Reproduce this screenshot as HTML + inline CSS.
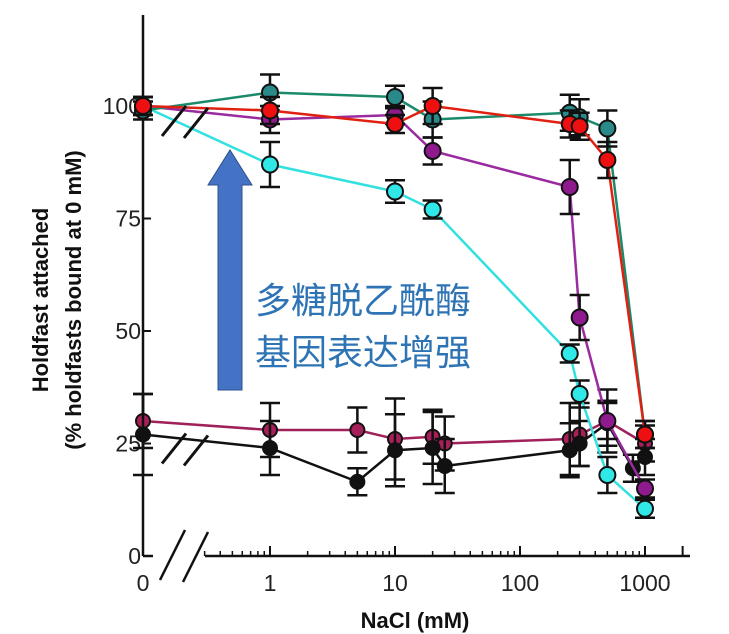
<!DOCTYPE html>
<html><head><meta charset="utf-8"><style>
html,body{margin:0;padding:0;background:#fff;}
svg{display:block;font-family:"Liberation Sans",sans-serif;}
</style></head><body>
<svg id="chart" width="729" height="634" viewBox="0 0 729 634" xmlns="http://www.w3.org/2000/svg">
<g id="axes"></g>
<g id="series"></g>
<g font-weight="bold" font-size="22" fill="#111">
<text transform="translate(48,300) rotate(-90)" text-anchor="middle">Holdfast attached</text>
<text transform="translate(81,300) rotate(-90)" text-anchor="middle">(% holdfasts bound at 0 mM)</text>
</g>
<text x="415" y="628" text-anchor="middle" font-weight="bold" font-size="22" fill="#111">NaCl (mM)</text>
<polygon points="218,390 242,390 242,185 252,185 230,150 208,185 218,185" fill="#4472c4" stroke="#2f528f" stroke-width="1"/>
<g font-family="'Liberation Sans','Noto Sans CJK SC',sans-serif" font-size="36" fill="#2e74b5">
<text x="255" y="313">多糖脱乙酰酶</text>
<text x="255" y="365">基因表达增强</text>
</g>
</svg>
<script>
const xValsTeal=[0,1,10,20,250,300,500,1000];
const tealVals=[99,103,102,97,98.5,97.5,95,27];
const tealErr=[2,4,2.5,4,4,4,4,3];
const xValsRed=[0,1,10,20,250,300,500,1000];
const redVals=[100,99,96,100,96,95.5,88,27];
const redErr=[2,3,2,4,3,3,4,3];
const xValsPurple=[0,1,10,20,250,300,500,1000];
const purpleVals=[100,97,98,90,82,53,30,15];
const purpleErr=[2,3,2,3,6,5,4,2];
const xValsCyan=[0,1,10,20,250,300,500,1000];
const cyanVals=[100,87,81,77,45,36,18,10.5];
const cyanErr=[2,5,2.5,2,2,3,4,2];
const xValsCrimson=[0,1,5,10,20,25,250,300,500,1000];
const crimsonVals=[30,28,28,26,26.5,25,26,27,30,25];
const crimsonErr=[6,6,5,9,6,6,8,7,7,4];
const xValsBlack=[0,1,5,10,20,25,250,300,500,800,1000];
const blackVals=[27,24,16.5,23.5,24,20,23.5,25,29.5,19.5,22];
const blackErr=[9,6,3,8,8,6,6,5,5,3,4];
const yTicks=[0,25,50,75,100];
const xTickVals=[0,1,10,100,1000];
const xTickLabels=["0","1","10","100","1000"];

const NS="http://www.w3.org/2000/svg";
function X(v){return v===0?143:270+125*Math.log10(v);}
function Y(v){return 556-v*4.5;}
function mk(tag,attrs,parent){const e=document.createElementNS(NS,tag);for(const k in attrs)e.setAttribute(k,attrs[k]);parent.appendChild(e);return e;}
const axes=document.getElementById('axes');
let e;
e=mk('line',{x1:143,y1:15,x2:143,y2:556,stroke:'#111','stroke-width':2.5},axes);


e=mk('line',{x1:143,y1:556,x2:690,y2:556,stroke:'#111','stroke-width':2.5},axes);


e=mk('rect',{x:153,y:530,width:52,height:40,fill:'#fff'},axes);


yTicks.forEach(t=>{
  const l=mk('line',{x1:143,y1:Y(t),x2:151,y2:Y(t),stroke:'#111','stroke-width':2},axes);
  
  
  const tx=mk('text',{x:141,y:Y(t)+8,'text-anchor':'end','font-size':23,fill:'#222'},axes);
  tx.textContent=t;
  
  
});
xTickVals.forEach((t,i)=>{
  if(t>0){const l=mk('line',{x1:X(t),y1:556,x2:X(t),y2:546,stroke:'#111','stroke-width':2},axes);
  
  }
  const tx=mk('text',{x:X(t),y:591,'text-anchor':'middle','font-size':23,fill:'#222'},axes);
  tx.textContent=xTickLabels[i];
  
  
});
for(let d=0.1;d<=1000;d*=10){for(let m=2;m<=9;m++){const v=d*m;if(v<0.25||v>1900)continue;
  const l=mk('line',{x1:X(v),y1:556,x2:X(v),y2:551,stroke:'#111','stroke-width':1.5},axes);
  
  }}
e=mk('line',{x1:X(2000),y1:556,x2:X(2000),y2:546,stroke:'#111','stroke-width':2},axes);


[[160,580,185,530],[183,582,208,532]].forEach(p=>{const l=mk('line',{x1:p[0],y1:p[1],x2:p[2],y2:p[3],stroke:'#111','stroke-width':2.5},axes);
  
  });
const S=document.getElementById('series');
function brk(y0){[[162,y0+25,186,y0-5],[184,y0+27,208,y0-3]].forEach(p=>{
  const l=mk('line',{x1:p[0],y1:p[1],x2:p[2],y2:p[3],stroke:'#111','stroke-width':3},S);
  
  });}
function draw(name,xs,vs,es,line,fill,r){
  const g=mk('g',{},S);
  
  
  const pts=xs.map((x,i)=>X(x)+','+Y(vs[i])).join(' ');
  const pl=mk('polyline',{points:pts,fill:'none',stroke:line,'stroke-width':2.5},g);
  
  
  xs.forEach((x,i)=>{const cx=X(x),y1=Y(vs[i]+es[i]),y2=Y(vs[i]-es[i]);
    const eb=mk('path',{d:`M${cx},${y1}V${y2}M${cx-10},${y1}H${cx+10}M${cx-10},${y2}H${cx+10}`,stroke:'#111','stroke-width':2.5,fill:'none'},g);
    
    });
  xs.forEach((x,i)=>{const c=mk('circle',{cx:X(x),cy:Y(vs[i]),r:r,fill:fill,stroke:'#111','stroke-width':2},g);
    
    });
}
draw('crimson',xValsCrimson,crimsonVals,crimsonErr,'#a0205a','#a8205a',7);
draw('black',xValsBlack,blackVals,blackErr,'#111','#111',7);
draw('cyan',xValsCyan,cyanVals,cyanErr,'#33e0e0','#30e8e8',8);
draw('purple',xValsPurple,purpleVals,purpleErr,'#9a2aa0','#8e1a8e',8);
draw('teal',xValsTeal,tealVals,tealErr,'#1a8a6a','#2a8a8a',8);
draw('red',xValsRed,redVals,redErr,'#e02010','#ee1010',8);
brk(Y(100)+5);brk(Y(25)-5);
</script>
</body></html>
